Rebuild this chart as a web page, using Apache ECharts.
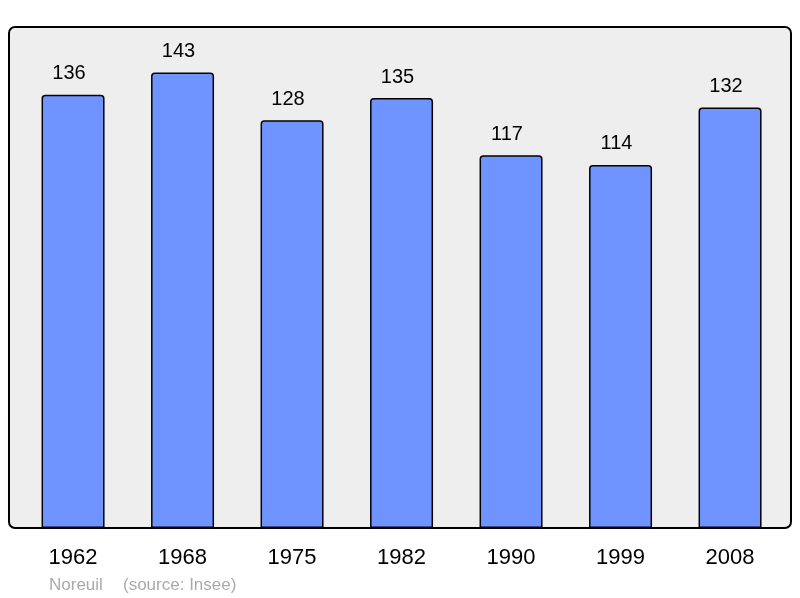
<!DOCTYPE html>
<html>
<head>
<meta charset="utf-8">
<script src="https://cdn.jsdelivr.net/npm/echarts@6/dist/echarts.min.js"></script>
<style>html,body{margin:0;padding:0;background:#fff}#c{width:800px;height:598px}</style>
</head>
<body>
<div id="c"></div>
<script>
const years = ['1962','1968','1975','1982','1990','1999','2008'];
const population = [136,143,128,135,117,114,132];
const commune = 'Noreuil';
const source = '(source: Insee)';

const chart = echarts.init(document.getElementById('c'), null, {renderer:'canvas'});
chart.setOption({
  animation:false,
  backgroundColor:'#ffffff',
  graphic:[
    {type:'rect', z:-10, shape:{x:9,y:27,width:782,height:501,r:6},
     style:{fill:'#eeeeee',stroke:'#000',lineWidth:2}},
    {type:'text', left:49, top:577, style:{text:commune, fill:'#aaaaaa', font:'17px "Liberation Sans", Arial, sans-serif'}},
    {type:'text', left:123, top:577, style:{text:source, fill:'#aaaaaa', font:'17px "Liberation Sans", Arial, sans-serif'}}
  ],
  grid:{left:18.3, right:15.2, top:27, bottom:70, containLabel:false},
  xAxis:{type:'category', data:years,
    axisLine:{show:false}, axisTick:{show:false},
    axisLabel:{color:'#000', fontSize:22, fontFamily:'"Liberation Sans", Arial, sans-serif', margin:19}},
  yAxis:{type:'value', min:0, max:157.3, show:false, splitLine:{show:false}},
  series:[{type:'bar', data:population, barWidth:63,
    itemStyle:{color:'#7094ff', borderColor:'#000', borderWidth:1.5, borderRadius:[3,3,0,0]},
    label:{show:true, position:'top', distance:11, offset:[-4,0], color:'#000', fontSize:20,
      fontFamily:'"Liberation Sans", Arial, sans-serif'}
  }]
});
</script>
</body>
</html>
